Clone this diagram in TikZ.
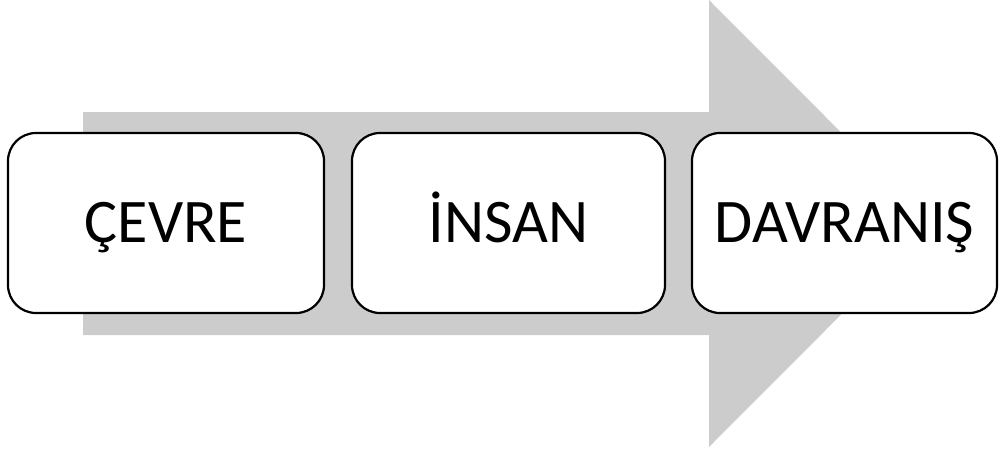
\documentclass[tikz,border=0pt]{standalone}
\usepackage{fontspec}
\setmainfont{Carlito}
\begin{document}
\begin{tikzpicture}[x=1pt,y=-1pt,
  stepbox/.style={draw=black,line width=2.2pt,fill=white,rounded corners=28pt,inner sep=0pt,
    minimum height=180pt,text height=45pt,text depth=7pt,font=\fontsize{62}{70}\selectfont},
  bigarrow/.style={fill=black!20,draw=none}]
\useasboundingbox (0,0) rectangle (999,452);
\fill[bigarrow] (83,112) -- (709,112) -- (709,0) -- (932,223.5) -- (709,447) -- (709,335) -- (83,335) -- cycle;
\node[stepbox,minimum width=316pt] (a) at (166,223) {ÇEVRE};
\node[stepbox,minimum width=313pt] (b) at (508.5,223) {İNSAN};
\node[stepbox,minimum width=305pt] (c) at (844.5,223) {DAVRANIŞ};
\end{tikzpicture}
\end{document}
